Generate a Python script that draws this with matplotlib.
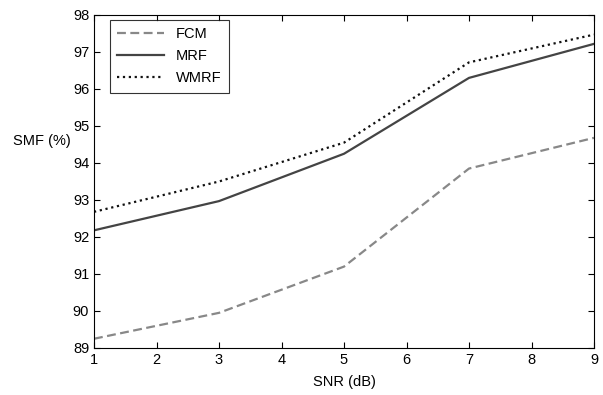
import matplotlib
matplotlib.use("Agg")
import matplotlib.pyplot as plt

plt.rcParams['font.family'] = ['Liberation Sans', 'DejaVu Sans']

snr = [1, 3, 5, 7, 9]
fcm = [89.25, 89.95, 91.2, 93.85, 94.68]
mrf = [92.18, 92.97, 94.25, 96.3, 97.22]
wmrf = [92.68, 93.5, 94.55, 96.72, 97.47]
xticks = list(range(1, 10))
yticks = list(range(89, 99))

fig = plt.figure(figsize=(6.03, 3.95), dpi=100)
ax = fig.add_axes([94 / 603, 1 - 348 / 395, 500 / 603, 333 / 395])

ax.plot(snr, fcm, '--', color='#888888', lw=1.6, label='FCM', dashes=(4, 2))
ax.plot(snr, mrf, '-', color='#444444', lw=1.6, label='MRF')
ax.plot(snr, wmrf, ':', color='#111111', lw=1.6, label='WMRF')

ax.set_xlim(1, 9)
ax.set_ylim(89, 98)
ax.set_xticks(xticks)
ax.set_yticks(yticks)
ax.tick_params(direction='in', length=4, labelsize=10.5, top=True, right=True, width=0.8)
for s in ax.spines.values():
    s.set_linewidth(0.8)

ax.set_xlabel('SNR (dB)', fontsize=10.5, labelpad=6)
ax.set_ylabel('SMF (%)', fontsize=10.5, rotation=0)
ax.yaxis.set_label_coords(-0.105, 0.6)

leg = ax.legend(loc='upper left', bbox_to_anchor=(0.032, 0.985), borderaxespad=0,
                fontsize=10.5, frameon=True, fancybox=False, edgecolor='black',
                handlelength=3.2, borderpad=0.5, labelspacing=0.55)
leg.get_frame().set_linewidth(0.8)

fig.savefig('out.png', dpi=100)
